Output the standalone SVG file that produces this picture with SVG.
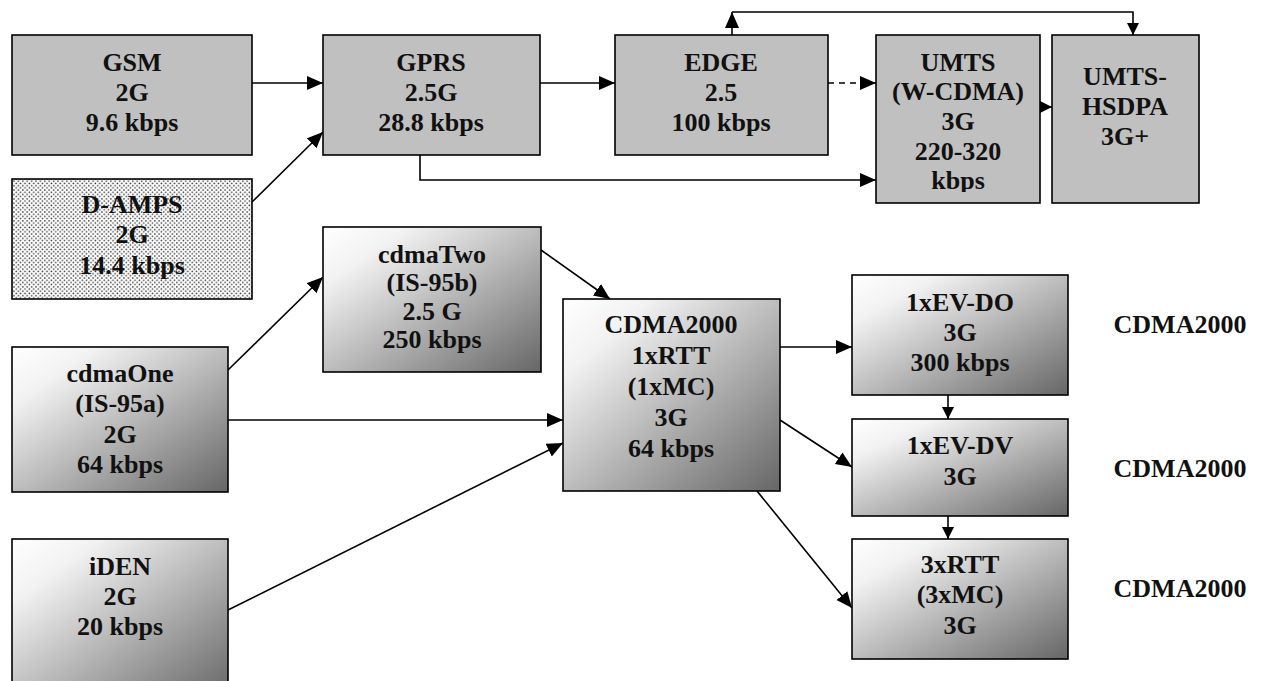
<svg xmlns="http://www.w3.org/2000/svg" width="1264" height="681" viewBox="0 0 1264 681">
  <style>
    .box { stroke: #000; stroke-width: 1.6; }
    .flat { fill: #c0c0c0; }
    .grad { fill: url(#shade); }
    .dots { fill: url(#speckle); }
    .lbl { font-family: 'Liberation Serif', 'DejaVu Serif', serif; font-weight: 700; font-size: 26px; fill: #111; text-anchor: middle; }
    .wire { fill: none; stroke: #000; stroke-width: 1.6; }
    .dash { stroke-dasharray: 6 5; }
  </style>
  <defs>
    <linearGradient id="shade" x1="0" y1="0" x2="1" y2="1">
      <stop offset="0" stop-color="#ffffff"/>
      <stop offset="0.2" stop-color="#f2f2f2"/>
      <stop offset="1" stop-color="#666666"/>
    </linearGradient>
    <pattern id="speckle" width="4.4" height="4.4" patternUnits="userSpaceOnUse">
      <rect width="4.4" height="4.4" fill="#ffffff"/>
      <circle cx="0.8" cy="0.8" r="0.8" fill="#333"/>
      <circle cx="3" cy="3" r="0.8" fill="#333"/>
    </pattern>
    <marker id="head" markerUnits="userSpaceOnUse" markerWidth="18" markerHeight="16" refX="16" refY="7" orient="auto">
      <path d="M0,0 L16,7 L0,14 z" fill="#000"/>
    </marker>
    <marker id="headSmall" markerUnits="userSpaceOnUse" markerWidth="14" markerHeight="14" refX="12" refY="6" orient="auto">
      <path d="M0,0 L12,6 L0,12 z" fill="#000"/>
    </marker>
    <clipPath id="umtsClip">
      <rect x="876" y="35" width="164" height="157"/>
    </clipPath>
  </defs>

  <!-- connectors -->
  <g id="connectors">
    <line class="wire" x1="252" y1="83" x2="323" y2="83" marker-end="url(#head)"/>
    <line class="wire" x1="252" y1="202" x2="323" y2="132" marker-end="url(#head)"/>
    <line class="wire" x1="540" y1="83" x2="615" y2="83" marker-end="url(#head)"/>
    <polyline class="wire" points="420,155 420,180 876,180" marker-end="url(#head)"/>
    <line class="wire dash" x1="828" y1="83" x2="876" y2="83" marker-end="url(#head)"/>
    <line class="wire" x1="732" y1="35" x2="732" y2="12" marker-end="url(#head)"/>
    <polyline class="wire" points="732,12 1133,12 1133,35" marker-end="url(#headSmall)"/>
    <line class="wire" x1="1040" y1="107" x2="1052" y2="107" marker-end="url(#headSmall)"/>
    <line class="wire" x1="228" y1="370" x2="323" y2="277" marker-end="url(#head)"/>
    <line class="wire" x1="228" y1="420" x2="563" y2="420" marker-end="url(#head)"/>
    <line class="wire" x1="228" y1="610" x2="563" y2="443" marker-end="url(#head)"/>
    <line class="wire" x1="541" y1="250" x2="610" y2="299" marker-end="url(#head)"/>
    <line class="wire" x1="780" y1="347" x2="852" y2="347" marker-end="url(#head)"/>
    <line class="wire" x1="780" y1="420" x2="852" y2="467" marker-end="url(#head)"/>
    <line class="wire" x1="757" y1="491" x2="852" y2="608" marker-end="url(#head)"/>
    <line class="wire" x1="948" y1="395" x2="948" y2="419" marker-end="url(#headSmall)"/>
    <line class="wire" x1="948" y1="516" x2="948" y2="539" marker-end="url(#headSmall)"/>
  </g>

  <!-- GSM family -->
  <g id="gsm">
    <rect class="box flat" x="12" y="35" width="240" height="120"/>
    <text class="lbl" x="132" y="71">GSM</text>
    <text class="lbl" x="132" y="101">2G</text>
    <text class="lbl" x="132" y="131">9.6 kbps</text>
  </g>
  <g id="gprs">
    <rect class="box flat" x="323" y="35" width="217" height="120"/>
    <text class="lbl" x="431" y="71">GPRS</text>
    <text class="lbl" x="431" y="101">2.5G</text>
    <text class="lbl" x="431" y="131">28.8 kbps</text>
  </g>
  <g id="edge">
    <rect class="box flat" x="615" y="35" width="213" height="120"/>
    <text class="lbl" x="721" y="71">EDGE</text>
    <text class="lbl" x="721" y="101">2.5</text>
    <text class="lbl" x="721" y="131">100 kbps</text>
  </g>
  <g id="umts">
    <rect class="box flat" x="876" y="35" width="164" height="168"/>
    <g clip-path="url(#umtsClip)">
      <text class="lbl" x="958" y="71">UMTS</text>
      <text class="lbl" x="958" y="100">(W-CDMA)</text>
      <text class="lbl" x="958" y="130">3G</text>
      <text class="lbl" x="958" y="160">220-320</text>
      <text class="lbl" x="958" y="189">kbps</text>
    </g>
  </g>
  <g id="umts-hsdpa">
    <rect class="box flat" x="1052" y="35" width="147" height="168"/>
    <text class="lbl" x="1125" y="85">UMTS-</text>
    <text class="lbl" x="1125" y="115">HSDPA</text>
    <text class="lbl" x="1125" y="145">3G+</text>
  </g>

  <!-- TDMA -->
  <g id="d-amps">
    <rect class="box dots" x="12" y="179" width="240" height="120"/>
    <text class="lbl" x="132" y="213">D-AMPS</text>
    <text class="lbl" x="132" y="243">2G</text>
    <text class="lbl" x="132" y="274">14.4 kbps</text>
  </g>

  <!-- CDMA family -->
  <g id="cdmatwo">
    <rect class="box grad" x="323" y="227" width="218" height="145"/>
    <text class="lbl" x="432" y="263">cdmaTwo</text>
    <text class="lbl" x="432" y="291">(IS-95b)</text>
    <text class="lbl" x="432" y="320">2.5 G</text>
    <text class="lbl" x="432" y="348">250 kbps</text>
  </g>
  <g id="cdmaone">
    <rect class="box grad" x="12" y="347" width="216" height="145"/>
    <text class="lbl" x="120" y="382">cdmaOne</text>
    <text class="lbl" x="120" y="412">(IS-95a)</text>
    <text class="lbl" x="120" y="443">2G</text>
    <text class="lbl" x="120" y="473">64 kbps</text>
  </g>
  <g id="iden">
    <rect class="box grad" x="12" y="539" width="216" height="160"/>
    <text class="lbl" x="120" y="575">iDEN</text>
    <text class="lbl" x="120" y="605">2G</text>
    <text class="lbl" x="120" y="635">20 kbps</text>
  </g>
  <g id="cdma2000-1xrtt">
    <rect class="box grad" x="563" y="299" width="217" height="192"/>
    <text class="lbl" x="671" y="333">CDMA2000</text>
    <text class="lbl" x="671" y="364">1xRTT</text>
    <text class="lbl" x="671" y="395">(1xMC)</text>
    <text class="lbl" x="671" y="426">3G</text>
    <text class="lbl" x="671" y="457">64 kbps</text>
  </g>
  <g id="ev-do">
    <rect class="box grad" x="852" y="275" width="216" height="120"/>
    <text class="lbl" x="960" y="311">1xEV-DO</text>
    <text class="lbl" x="960" y="341">3G</text>
    <text class="lbl" x="960" y="371">300 kbps</text>
  </g>
  <g id="ev-dv">
    <rect class="box grad" x="852" y="419" width="216" height="97"/>
    <text class="lbl" x="960" y="454">1xEV-DV</text>
    <text class="lbl" x="960" y="485">3G</text>
  </g>
  <g id="rtt3x">
    <rect class="box grad" x="852" y="539" width="216" height="120"/>
    <text class="lbl" x="960" y="573">3xRTT</text>
    <text class="lbl" x="960" y="603">(3xMC)</text>
    <text class="lbl" x="960" y="634">3G</text>
  </g>

  <!-- family tags -->
  <g id="tags">
    <text class="lbl" x="1180" y="333">CDMA2000</text>
    <text class="lbl" x="1180" y="477">CDMA2000</text>
    <text class="lbl" x="1180" y="597">CDMA2000</text>
  </g>
</svg>
